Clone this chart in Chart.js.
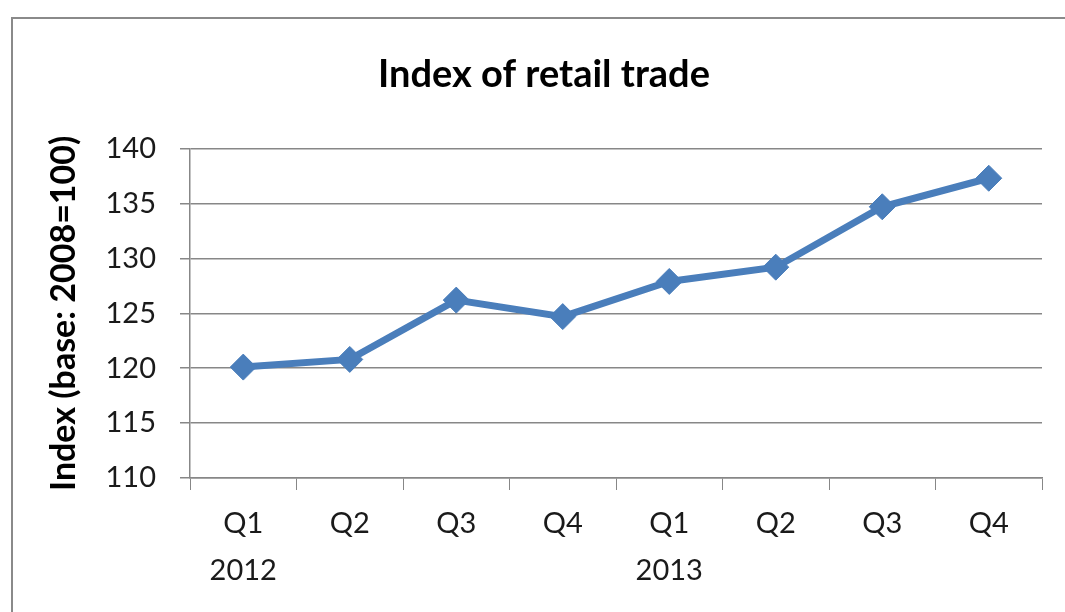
<!DOCTYPE html>
<html>
<head>
<meta charset="utf-8">
<script src="https://cdn.jsdelivr.net/npm/chart.js@4.4.1/dist/chart.umd.min.js"></script>
<style>
  html, body { margin: 0; padding: 0; background: #ffffff; }
  #wrap { position: relative; width: 1065px; height: 612px; overflow: hidden; }
  #frame { position: absolute; left: 11px; top: 17px; width: 1100px; height: 700px; border: 2px solid #8a8a8a; box-sizing: border-box; }
  canvas { position: absolute; left: 0; top: 0; }
</style>
</head>
<body>
<div id="wrap">
  <div id="frame"></div>
  <canvas id="c" width="1065" height="612"></canvas>
</div>
<script>
const quarters = [['Q1', '2012'], 'Q2', 'Q3', 'Q4', ['Q1', '2013'], 'Q2', 'Q3', 'Q4'];
const retailIndex = [120.1, 120.8, 126.2, 124.7, 127.9, 129.2, 134.7, 137.3];
const yTicks = [110, 115, 120, 125, 130, 135, 140];

const FONT = 'Lato';
const textColor = '#1a1a1a';
const gridColor = '#878787';

new Chart(document.getElementById('c'), {
  type: 'line',
  data: {
    labels: quarters,
    datasets: [{
      label: 'Index of retail trade',
      data: retailIndex,
      borderColor: '#4a7ebb',
      backgroundColor: '#4a7ebb',
      borderWidth: 7,
      pointStyle: 'rectRot',
      pointRadius: 13,
      pointHoverRadius: 13,
      pointBorderWidth: 1,
      tension: 0
    }]
  },
  options: {
    responsive: false,
    animation: false,
    devicePixelRatio: 1,
    layout: { padding: { left: 46, right: 23, top: 0, bottom: 0 } },
    plugins: {
      legend: { display: false },
      tooltip: { enabled: false },
      title: {
        display: true,
        text: 'Index of retail trade',
        color: '#000',
        font: { family: FONT, size: 38, weight: 'bold', lineHeight: 1.2 },
        padding: { top: 52, bottom: 51 }
      }
    },
    scales: {
      x: {
        offset: true,
        grid: { display: true, drawOnChartArea: false, drawTicks: true, tickLength: 12, color: gridColor, lineWidth: 1, offset: true },
        border: { display: true, color: gridColor, width: 1.5 },
        ticks: { color: textColor, font: { family: FONT, size: 29, lineHeight: 1.62 }, padding: 10, maxRotation: 0, autoSkip: false },
        afterFit: (s) => { s.height = 134; }
      },
      y: {
        min: 110, max: 140,
        afterBuildTicks: (s) => { s.ticks = yTicks.map(v => ({ value: v })); },
        grid: { color: gridColor, lineWidth: 1.5, tickLength: 10, drawTicks: true },
        border: { display: true, color: gridColor, width: 1.5 },
        ticks: { color: textColor, font: { family: FONT, size: 29 }, padding: 24 },
        title: {
          display: true,
          text: 'Index (base: 2008=100)',
          color: '#000',
          font: { family: FONT, size: 34, weight: 'bold', lineHeight: 1.0 },
          padding: { top: 1, bottom: 0 }
        },
        afterFit: (s) => { s.width = 144; }
      }
    }
  }
});
</script>
</body>
</html>
